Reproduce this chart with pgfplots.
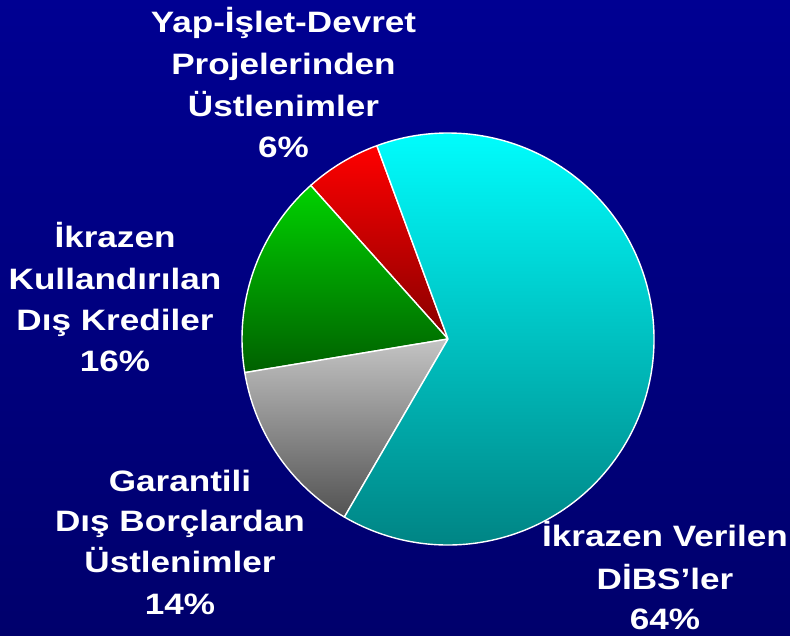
\documentclass[border=0pt]{standalone}
\usepackage{pgfplots}
\usepackage{pgfplotstable}
\pgfplotsset{compat=1.18}
\usepackage{fontspec}
\setmainfont{Liberation Sans}[FakeStretch=1.19]
\definecolor{bgtop}{RGB}{0,0,146}
\definecolor{bgbot}{RGB}{0,0,108}
\definecolor{cyantop}{RGB}{0,255,255}
\definecolor{cyanbot}{RGB}{0,124,124}
\definecolor{graytop}{RGB}{196,196,196}
\definecolor{graybot}{RGB}{82,82,82}
\definecolor{greentop}{RGB}{0,210,0}
\definecolor{greenbot}{RGB}{0,96,0}
\definecolor{redtop}{RGB}{255,0,0}
\definecolor{redbot}{RGB}{135,0,0}

\pgfplotstableread{
slice pct
Yap 6
Kredi 16
Garanti 14
DIBS 64
}\piedata

\pgfplotstablegetelem{0}{pct}\of\piedata \let\pA\pgfplotsretval
\pgfplotstablegetelem{1}{pct}\of\piedata \let\pB\pgfplotsretval
\pgfplotstablegetelem{2}{pct}\of\piedata \let\pC\pgfplotsretval
\pgfplotstablegetelem{3}{pct}\of\piedata \let\pD\pgfplotsretval
\pgfmathsetmacro\aA{110.2}
\pgfmathsetmacro\aB{\aA+3.6*\pA}
\pgfmathsetmacro\aC{\aB+3.6*\pB}
\pgfmathsetmacro\aD{\aC+3.6*\pC}
\pgfmathsetmacro\aE{\aD+3.6*\pD}

\newcommand{\lbl}[3]{\node[anchor=base, text=white, inner sep=0pt,
  font=\fontsize{29.5}{34}\selectfont\bfseries] at (axis cs:#1,#2) {#3};}

\begin{document}
\begin{tikzpicture}
\begin{axis}[
  x=1pt, y=1pt, xmin=0, xmax=790, ymin=0, ymax=636,
  scale only axis, hide axis, clip=false,
]
\addplot[draw=none] coordinates {(0,0) (790,636)};
\shade[top color=bgtop, bottom color=bgbot] (axis cs:0,0) rectangle (axis cs:790,636);
% slices
\shadedraw[top color=redtop, bottom color=redbot, draw=white, line width=1.4pt, line join=round]
  (axis cs:448,297) -- ++(\aA:206pt) arc[start angle=\aA, end angle=\aB, radius=206pt] -- cycle;
\shadedraw[top color=greentop, bottom color=greenbot, draw=white, line width=1.4pt, line join=round]
  (axis cs:448,297) -- ++(\aB:206pt) arc[start angle=\aB, end angle=\aC, radius=206pt] -- cycle;
\shadedraw[top color=graytop, bottom color=graybot, draw=white, line width=1.4pt, line join=round]
  (axis cs:448,297) -- ++(\aC:206pt) arc[start angle=\aC, end angle=\aD, radius=206pt] -- cycle;
\shadedraw[top color=cyantop, bottom color=cyanbot, draw=white, line width=1.4pt, line join=round]
  (axis cs:448,297) -- ++(\aD:206pt) arc[start angle=\aD, end angle=\aE, radius=206pt] -- cycle;
% labels
\lbl{283.5}{603}{Yap-İşlet-Devret}
\lbl{283.5}{561}{Projelerinden}
\lbl{283.5}{519}{Üstlenimler}
\lbl{283.5}{478}{6\%}
\lbl{115}{388}{İkrazen}
\lbl{115}{346}{Kullandırılan}
\lbl{115}{305}{Dış Krediler}
\lbl{115}{264}{16\%}
\lbl{180}{144}{Garantili}
\lbl{180}{104}{Dış Borçlardan}
\lbl{180}{63}{Üstlenimler}
\lbl{180}{21}{14\%}
\lbl{665}{89}{İkrazen Verilen}
\lbl{665}{46}{DİBS’ler}
\lbl{665}{6}{64\%}
\end{axis}
\end{tikzpicture}
\end{document}
